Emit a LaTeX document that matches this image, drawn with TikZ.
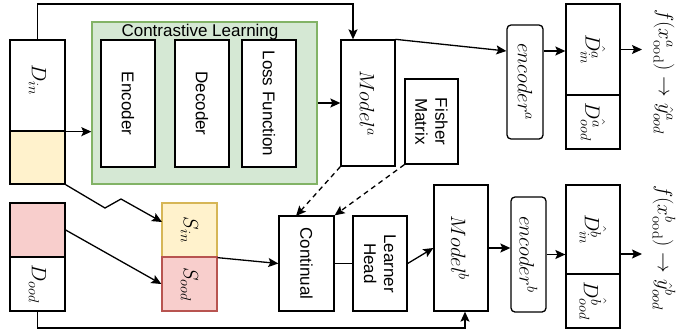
\documentclass[tikz,border=0pt]{standalone}
\usepackage[no-math]{fontspec}
\setmainfont{Liberation Sans}
\usetikzlibrary{arrows.meta,calc}
\definecolor{yfill}{HTML}{FFF2CC}
\definecolor{ydraw}{HTML}{D6B656}
\definecolor{rfill}{HTML}{F8CECC}
\definecolor{rdraw}{HTML}{B85450}
\definecolor{gfill}{HTML}{D5E8D4}
\definecolor{gdraw}{HTML}{82B366}
\begin{document}
\begin{tikzpicture}[x=1pt,y=-1pt,line width=1.3pt,
  box/.style={draw=black,fill=white,rectangle,inner sep=0pt,line width=1.3pt},
  rbox/.style={box,rounded corners=4pt},
  txt/.style={font=\fontsize{17}{20}\selectfont},
  mtxt/.style={font=\fontsize{22}{25}\selectfont},
  vert/.style={rotate=-90},
  arr/.style={-{Stealth[length=10pt,width=9pt,inset=2pt]},line width=1.3pt},
  dashline/.style={dashed,dash pattern=on 5pt off 4pt}]
\useasboundingbox (0,0) rectangle (681,330);
% ---- top row ----
\node[box,minimum width=55pt,minimum height=91pt] (dinTop) at (37.5,85.5) {};
\node[mtxt,vert] at (37.5,80) {$D_{in}$};
\node[box,fill=yfill,minimum width=55pt,minimum height=53pt] (dinBot) at (37.5,157.5) {};
\node[box,draw=gdraw,fill=gfill,minimum width=225pt,minimum height=162pt] (green) at (204.5,103) {};
\node[txt] (gtitle) at (200,32) {Contrastive Learning};
\node[box,minimum width=54pt,minimum height=127pt] (enc) at (128,103.5) {};
\node[txt,vert] at (128,103.5) {Encoder};
\node[box,minimum width=54pt,minimum height=127pt] (dec) at (202,103.5) {};
\node[txt,vert] at (202,103.5) {Decoder};
\node[box,minimum width=54pt,minimum height=127pt] (loss) at (269,103.5) {};
\node[txt,vert] at (269,103.5) {Loss Function};
\node[box,minimum width=54pt,minimum height=126pt] (modela) at (368,103) {};
\node[mtxt,vert] at (367,103) {$Model^{a}$};
\node[box,minimum width=53pt,minimum height=85pt] (fisher) at (431.5,121.5) {};
\node[txt,vert,align=center] at (431.5,121.5) {Fisher\\Matrix};
\node[rbox,minimum width=36pt,minimum height=114pt] (enca) at (525,82) {};
\node[mtxt,vert] at (525,82) {$encoder^{a}$};
\node[box,minimum width=54pt,minimum height=91pt] (outaTop) at (593,49.5) {};
\node[mtxt,vert] at (593,49.5) {$\hat{D_{in}^{a}}$};
\node[box,minimum width=54pt,minimum height=54pt] (outaBot) at (593,122) {};
\node[mtxt,vert] at (593,122) {$\hat{D_{ood}^{a}}$};
\node[mtxt,vert] (fa) at (664,72) {$f(x^{a}_{\mathrm{ood}})\rightarrow\hat{y}^{a}_{ood}$};
% ---- bottom row ----
\node[box,fill=rfill,minimum width=55pt,minimum height=54pt] (doodTop) at (37.5,230) {};
\node[box,minimum width=55pt,minimum height=54pt] (doodBot) at (37.5,284) {};
\node[mtxt,vert] at (37.5,284) {$D_{ood}$};
\node[box,draw=ydraw,fill=yfill,minimum width=55pt,minimum height=54pt] (sin) at (189.5,230) {};
\node[mtxt,vert] at (189.5,230) {$S_{in}$};
\node[box,draw=rdraw,fill=rfill,minimum width=55pt,minimum height=54pt] (sood) at (189.5,284) {};
\node[mtxt,vert] at (189.5,284) {$S_{ood}$};
\node[box,minimum width=55pt,minimum height=95pt] (cont) at (306.5,263.5) {};
\node[txt,vert] at (306.5,263.5) {Continual};
\node[box,minimum width=54pt,minimum height=95pt] (learner) at (380,263.5) {};
\node[txt,vert,align=center] at (380,263.5) {Learner\\Head};
\node[box,minimum width=54pt,minimum height=126pt] (modelb) at (461,248) {};
\node[mtxt,vert] at (460,248) {$Model^{b}$};
\node[rbox,minimum width=35pt,minimum height=115pt] (encb) at (528.5,254.5) {};
\node[mtxt,vert] at (528.5,254.5) {$encoder^{b}$};
\node[box,minimum width=54pt,minimum height=89pt] (outbTop) at (593,229.5) {};
\node[mtxt,vert] at (593,229.5) {$\hat{D_{in}^{b}}$};
\node[box,minimum width=54pt,minimum height=54pt] (outbBot) at (593,301) {};
\node[mtxt,vert] at (593,301) {$\hat{D_{ood}^{b}}$};
\node[mtxt,vert] (fb) at (664,248) {$f(x^{b}_{\mathrm{ood}})\rightarrow\hat{y}^{b}_{ood}$};
% ---- coordinates ----
\coordinate (topR) at (353,4);
\coordinate (ya) at (0,51);
\coordinate (faTip) at (642,49.5);
\coordinate (zz1) at (105,208);
\coordinate (zz2) at (121,199);
\coordinate (sinIn) at (162,222);
\coordinate (contIn) at (296,216);
\coordinate (fbTip) at (642,254);
\coordinate (botR) at (465,328);
% ---- connectors ----
\draw[arr] (dinTop.north) |- (topR) -- (topR |- modela.north);
\draw[arr] (dinTop.south east) -- (green.west |- dinTop.south east);
\draw[arr] (green.east) -- (modela.west);
\draw[arr] (modela.north east) -- (enca.west |- ya);
\draw[arr] (enca.east |- ya) -- (outaTop.west |- ya);
\draw[arr] (outaTop.east) -- (faTip);
\draw[arr] (dinBot.south east) -- (zz1) -- (zz2) -- (sinIn);
\draw[arr] (doodTop.east) -- (sood.west);
\draw[arr] (sin.south east) -- (cont.west);
\draw[arr,dashline] (modela.south west) -- (contIn);
\draw[arr,dashline] (fisher.south west) -- (cont.north east);
\draw (cont.east) -- (learner.west);
\draw[arr] (learner.east) -- (modelb.west);
\draw[arr] (modelb.east) -- (modelb.east -| encb.west);
\draw[arr] (encb.east) -- (encb.east -| outbTop.west);
\draw[arr] (outbTop.east |- fbTip) -- (fbTip);
\draw[arr] (doodBot.south) |- (botR) -- (botR |- modelb.south);
\end{tikzpicture}
\end{document}
